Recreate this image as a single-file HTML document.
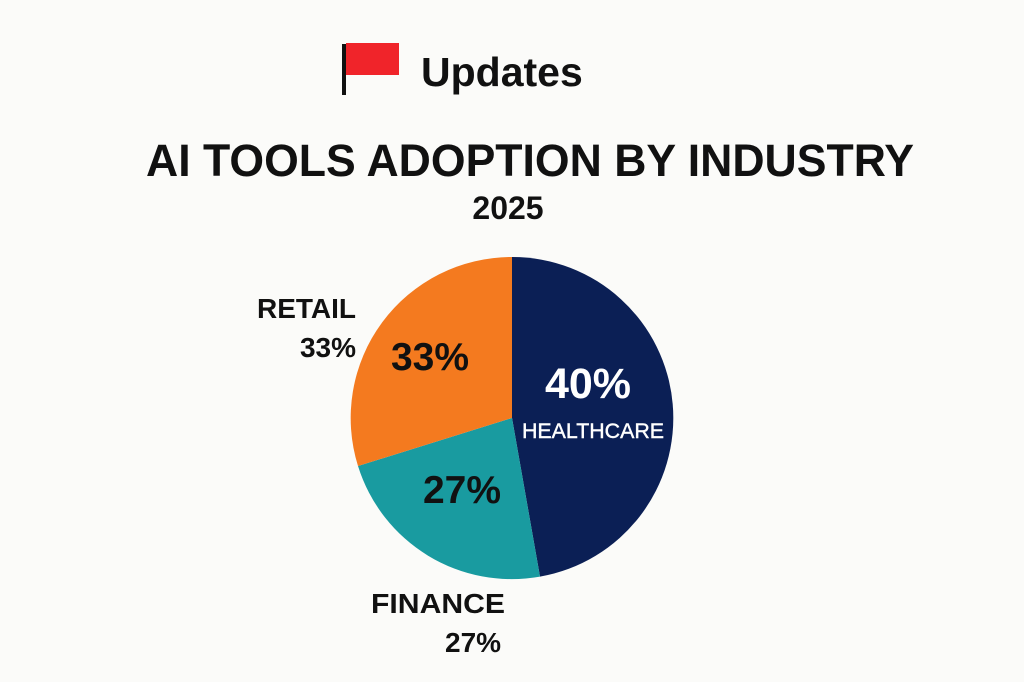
<!DOCTYPE html>
<html><head><style>
body{margin:0;background:#fbfbf9;}
svg{display:block;}
text{font-family:"Liberation Sans",sans-serif;font-weight:bold;}
</style></head><body>
<svg width="1024" height="682" viewBox="0 0 1024 682">
<rect width="1024" height="682" fill="#fbfbf9"/>
<rect x="342" y="44" width="4" height="51" fill="#111"/>
<rect x="346" y="43" width="53" height="32" fill="#f0242a"/>
<text x="421" y="86" font-size="41" fill="#111">Updates</text>
<text x="530" y="176" font-size="45" fill="#111" text-anchor="middle" textLength="768" lengthAdjust="spacingAndGlyphs">AI TOOLS ADOPTION BY INDUSTRY</text>
<text x="508" y="219" font-size="32" fill="#111" text-anchor="middle">2025</text>
<path d="M512 418 L512 257 A161 161 0 0 1 540 576.6 Z" fill="#0b1f55"/>
<path d="M512 418 L540 576.6 A161 161 0 0 1 358 466 Z" fill="#199ba0"/>
<path d="M512 418 L358 466 A161 161 0 0 1 512 257 Z" fill="#f47a1f"/>
<text x="588" y="398" font-size="43" fill="#fff" text-anchor="middle">40%</text>
<text x="593" y="438" font-size="21" fill="#fff" text-anchor="middle" textLength="142" lengthAdjust="spacingAndGlyphs" style="font-weight:normal" stroke="#fff" stroke-width="0.4">HEALTHCARE</text>
<text x="430" y="370" font-size="39" fill="#111" text-anchor="middle">33%</text>
<text x="462" y="503" font-size="39" fill="#111" text-anchor="middle">27%</text>
<text x="356" y="318" font-size="28" fill="#111" text-anchor="end">RETAIL</text>
<text x="356" y="357" font-size="28" fill="#111" text-anchor="end">33%</text>
<text x="371" y="613" font-size="28" fill="#111" textLength="134" lengthAdjust="spacingAndGlyphs">FINANCE</text>
<text x="445" y="652" font-size="28" fill="#111">27%</text>
</svg>
</body></html>
